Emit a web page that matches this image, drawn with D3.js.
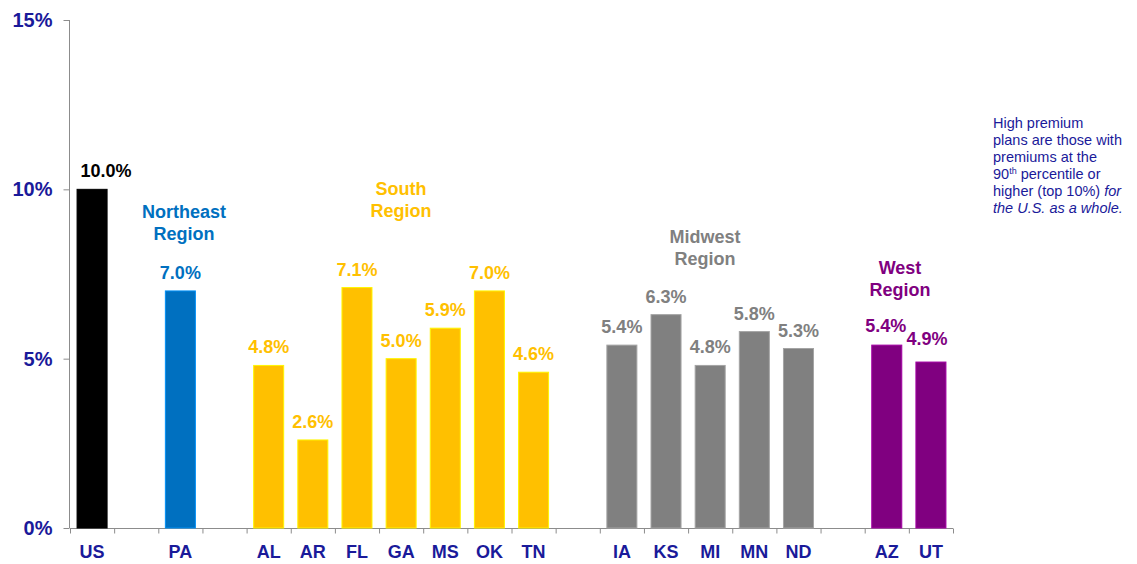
<!DOCTYPE html>
<html>
<head>
<meta charset="utf-8">
<script src="https://cdn.jsdelivr.net/npm/d3@7"></script>
<style>
  html, body { margin: 0; padding: 0; background: #fff; }
  svg { display: block; font-family: "Liberation Sans", Arial, sans-serif; }
</style>
</head>
<body>
<div id="chart"></div>
<script>
// ---- data ----
const states  = ["US","PA","AL","AR","FL","GA","MS","OK","TN","IA","KS","MI","MN","ND","AZ","UT"];
const values  = [10.0, 7.0, 4.8, 2.6, 7.1, 5.0, 5.9, 7.0, 4.6, 5.4, 6.3, 4.8, 5.8, 5.3, 5.4, 4.9];
const regionOf = ["US","Northeast","South","South","South","South","South","South","South",
                  "Midwest","Midwest","Midwest","Midwest","Midwest","West","West"];
// slot order incl. empty gaps between regions
const slots = ["US","g1","PA","g2","AL","AR","FL","GA","MS","OK","TN","g3",
               "IA","KS","MI","MN","ND","g4","AZ","UT"];
const yTicks = [0, 5, 10, 15];
const regionNames = ["Northeast","South","Midwest","West"];

// ---- style / layout ----
const COLORS = { US:"#000000", Northeast:"#0070c0", South:"#ffc000", Midwest:"#808080", West:"#800080" };
const NAVY = "#1a1a9a";
// region label placement: [centre x, first line centre y]
const REGION_POS = { Northeast:[184, 211], South:[401, 188], Midwest:[705, 236], West:[900, 267] };
// small nudges of value labels: [dx, gap above bar]
const LABEL_NUDGE = { US:[14, 12], AZ:[-1, 13], UT:[-4, 17] };

const W = 1137, H = 564;
const svg = d3.select("#chart").append("svg").attr("width", W).attr("height", H);

const x = d3.scaleBand().domain(slots).range([70, 953]).paddingInner(0.32).paddingOuter(0.16);
const y = d3.scaleLinear().domain([0, 15]).range([528, 20]);
// boundaries between slots, for the x tick marks
const xb = d3.scaleLinear().domain([0, slots.length]).range([70, 953]);

// y axis
const yAxis = svg.append("g")
  .attr("transform", "translate(69.5,0)")
  .call(d3.axisLeft(y).tickValues(yTicks).tickSize(6).tickFormat(d => d + "%"));
yAxis.select(".domain").attr("stroke", "#8c8c8c").attr("d", `M0,${y(15)}V${y(0)}`);
yAxis.selectAll(".tick line").attr("stroke", "#8c8c8c");
yAxis.selectAll("text")
  .attr("x", -17)
  .attr("fill", NAVY)
  .style("font-size", "20px")
  .style("font-weight", "bold")
  .style("font-family", "'Liberation Sans', Arial, sans-serif");

// x axis: tick marks at slot boundaries
const xAxis = svg.append("g")
  .attr("transform", "translate(0,528.5)")
  .call(d3.axisBottom(xb).tickValues(d3.range(0, slots.length + 1)).tickSize(5).tickFormat(""));
xAxis.select(".domain").attr("stroke", "#8c8c8c").attr("d", `M${xb(0)},0H${xb(slots.length)}`);
xAxis.selectAll(".tick line").attr("stroke", "#8c8c8c");

// x labels from band scale
const xLab = svg.append("g")
  .attr("transform", "translate(0,544)")
  .call(d3.axisBottom(x).tickValues(states).tickSize(0).tickPadding(0));
xLab.select(".domain").remove();
xLab.selectAll("text")
  .attr("dy", "0.8em")
  .attr("fill", NAVY)
  .style("font-size", "18px")
  .style("font-weight", "bold")
  .style("font-family", "'Liberation Sans', Arial, sans-serif");

const rows = states.map((s, i) => ({ s, v: values[i], r: regionOf[i] }));

// bars
svg.append("g").selectAll("rect")
  .data(rows)
  .join("rect")
  .attr("x", d => x(d.s))
  .attr("y", d => y(d.v))
  .attr("width", x.bandwidth())
  .attr("height", d => y(0) - y(d.v))
  .attr("fill", d => COLORS[d.r])
  .attr("stroke", d => d3.color(COLORS[d.r]).brighter(d.r === "US" ? 0 : 0.7))
  .attr("stroke-width", 1);

// value labels
svg.append("g").selectAll("text")
  .data(rows)
  .join("text")
  .attr("x", d => x(d.s) + x.bandwidth() / 2 + (LABEL_NUDGE[d.s] || [0])[0])
  .attr("y", d => y(d.v) - (LABEL_NUDGE[d.s] || [0, 12])[1])
  .attr("text-anchor", "middle")
  .attr("fill", d => COLORS[d.r])
  .style("font-size", "18px")
  .style("font-weight", "bold")
  .text(d => d.v.toFixed(1) + "%");

// region labels
const rg = svg.append("g");
regionNames.forEach(name => {
  const [cx, cy] = REGION_POS[name];
  [name, "Region"].forEach((line, j) => {
    rg.append("text")
      .attr("x", cx)
      .attr("y", cy + j * 22.5 + 6.5)
      .attr("text-anchor", "middle")
      .attr("fill", COLORS[name])
      .style("font-size", "18px")
      .style("font-weight", "bold")
      .text(line);
  });
});

// side note
const note = svg.append("text")
  .attr("fill", NAVY)
  .style("font-size", "14.5px");
const noteX = 993, noteY0 = 128, noteDY = 17;
const line = i => note.append("tspan").attr("x", noteX).attr("y", noteY0 + i * noteDY);
line(0).text("High premium");
line(1).text("plans are those with");
line(2).text("premiums at the");
const l3 = line(3);
l3.append("tspan").text("90");
l3.append("tspan").attr("dy", -5).style("font-size", "9px").text("th");
l3.append("tspan").attr("dy", 5).text(" percentile or");
const l4 = line(4);
l4.append("tspan").text("higher (top 10%) ");
l4.append("tspan").style("font-style", "italic").text("for");
line(5).style("font-style", "italic").text("the U.S. as a whole.");
</script>
</body>
</html>
